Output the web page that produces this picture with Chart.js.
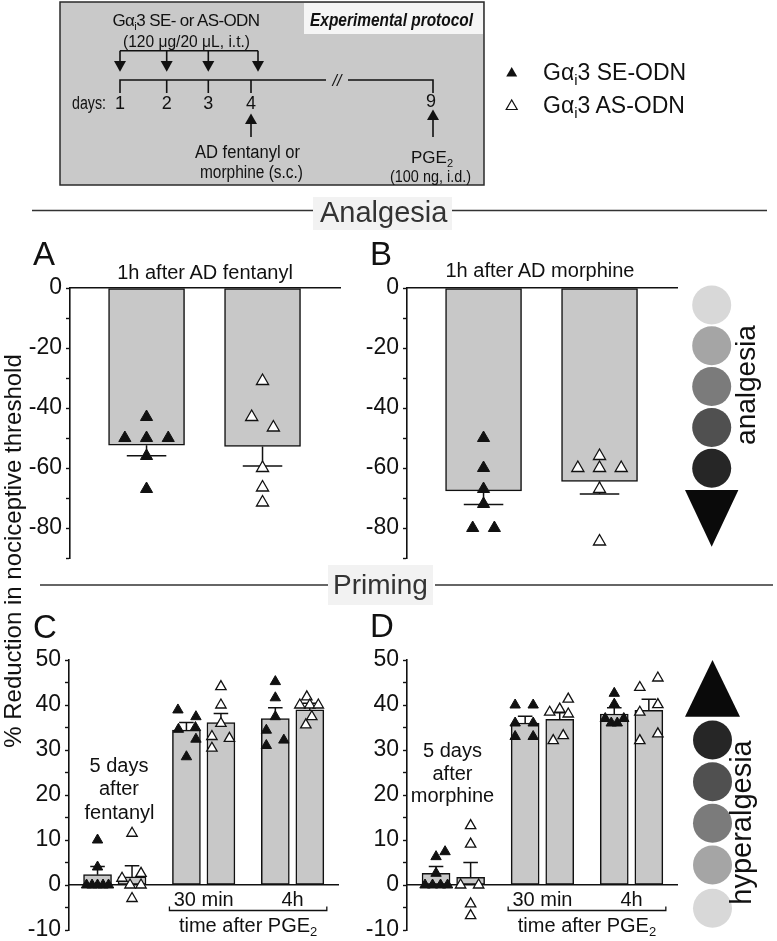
<!DOCTYPE html>
<html>
<head>
<meta charset="utf-8">
<script src="https://cdn.jsdelivr.net/npm/chart.js@4.4.1/dist/chart.umd.min.js"></script>
<style>
  html, body { margin: 0; padding: 0; background: #fff; overflow: hidden; }
  #page { position: relative; width: 777px; height: 941px; }
  canvas { position: absolute; }
  svg { position: absolute; left: 0; top: 0; pointer-events: none; }
</style>
</head>
<body>
<div id="page">
  <canvas id="chartA"></canvas>
  <canvas id="chartB"></canvas>
  <canvas id="chartC"></canvas>
  <canvas id="chartD"></canvas>

  <svg width="777" height="941" viewBox="0 0 777 941" font-family="'Liberation Sans', Arial, sans-serif" fill="#111">
    <!-- experimental protocol box -->
    <rect x="60" y="2" width="424" height="183" fill="#c9c9c9" stroke="#2a2a2a" stroke-width="1.5"/>
    <rect x="304" y="3" width="179" height="31" fill="#f5f5f5"/>
    <text x="310" y="26" font-size="18" font-weight="bold" font-style="italic" textLength="163" lengthAdjust="spacingAndGlyphs">Experimental protocol</text>
    <text x="186" y="26" font-size="17" text-anchor="middle" letter-spacing="-0.6">Gα<tspan font-size="11" dy="4">i</tspan><tspan dy="-4">3 SE- or AS-ODN</tspan></text>
    <text x="123" y="47" font-size="17" textLength="127" lengthAdjust="spacingAndGlyphs">(120 μg/20 μL, i.t.)</text>
    <g stroke="#111" stroke-width="1.6" fill="none">
      <path d="M120 50.7 H258"/>
      <path d="M120 50.7 V63 M166.7 50.7 V63 M208.3 50.7 V63 M258 50.7 V63"/>
      <path d="M120 93 V80 H326 M348 80 H433 V93"/>
      <path d="M166.7 80 V93 M208.3 80 V93 M251 80 V93"/>
      <path d="M251 137 V122 M433 137 V118"/>
    </g>
    <g fill="#111">
      <polygon points="114,61 126,61 120,71.7"/>
      <polygon points="160.7,61 172.7,61 166.7,71.7"/>
      <polygon points="202.3,61 214.3,61 208.3,71.7"/>
      <polygon points="252,61 264,61 258,71.7"/>
      <polygon points="245,124 257,124 251,113.5"/>
      <polygon points="427,120 439,120 433,109.5"/>
    </g>
    <text x="337" y="86" font-size="16" font-style="italic" text-anchor="middle">//</text>
    <text x="72" y="108.5" font-size="18" textLength="34" lengthAdjust="spacingAndGlyphs">days:</text>
    <g font-size="18" text-anchor="middle">
      <text x="120" y="108.5">1</text>
      <text x="166.7" y="108.5">2</text>
      <text x="208.3" y="108.5">3</text>
      <text x="251" y="108.5">4</text>
      <text x="431" y="107">9</text>
    </g>
    <text x="195" y="158" font-size="18" textLength="105" lengthAdjust="spacingAndGlyphs">AD fentanyl or</text>
    <text x="200" y="178" font-size="18" textLength="103" lengthAdjust="spacingAndGlyphs">morphine (s.c.)</text>
    <text x="432" y="163" font-size="17" text-anchor="middle">PGE<tspan font-size="11" dy="4">2</tspan></text>
    <text x="390" y="182" font-size="17" textLength="81" lengthAdjust="spacingAndGlyphs">(100 ng, i.d.)</text>

    <!-- legend -->
    <polygon points="506.2,76.5 517.2,76.5 511.7,67" fill="#111"/>
    <polygon points="506.2,109.5 517.2,109.5 511.7,100" fill="#fff" stroke="#111" stroke-width="1.2"/>
    <text x="543" y="80" font-size="23">Gα<tspan font-size="15" dy="5">i</tspan><tspan dy="-5">3 SE-ODN</tspan></text>
    <text x="543" y="113" font-size="23">Gα<tspan font-size="15" dy="5">i</tspan><tspan dy="-5">3 AS-ODN</tspan></text>

    <!-- section separators -->
    <g stroke="#333" stroke-width="1.5">
      <line x1="32" y1="210.5" x2="313" y2="210.5"/>
      <line x1="452" y1="210.5" x2="767" y2="210.5"/>
      <line x1="40" y1="585" x2="328" y2="585"/>
      <line x1="435" y1="585" x2="773" y2="585"/>
    </g>
    <rect x="313" y="197" width="139" height="33" fill="#f2f2f2"/>
    <text x="320" y="221.5" font-size="29" fill="#333">Analgesia</text>
    <rect x="328" y="565" width="105" height="40" fill="#f2f2f2"/>
    <text x="333" y="593.5" font-size="28" fill="#333">Priming</text>

    <!-- panel letters and titles -->
    <g font-size="33">
      <text x="33" y="265">A</text>
      <text x="370" y="265">B</text>
      <text x="33" y="638">C</text>
      <text x="370" y="637">D</text>
    </g>
    <g font-size="20" text-anchor="middle">
      <text x="205" y="279">1h after AD fentanyl</text>
      <text x="540" y="277">1h after AD morphine</text>
      <text x="119" y="772">5 days</text>
      <text x="119" y="795">after</text>
      <text x="119.5" y="819">fentanyl</text>
      <text x="452.5" y="757">5 days</text>
      <text x="452.5" y="780">after</text>
      <text x="452.5" y="802">morphine</text>
    </g>

    <!-- shared y-axis title -->
    <text transform="translate(20.5,551) rotate(-90)" font-size="24" text-anchor="middle">% Reduction in nociceptive threshold</text>

    <!-- analgesia scale -->
    <circle cx="711.7" cy="305" r="19.5" fill="#d8d8d8"/>
    <circle cx="711.7" cy="345.8" r="19.5" fill="#a5a5a5"/>
    <circle cx="711.7" cy="386.6" r="19.5" fill="#7b7b7b"/>
    <circle cx="711.7" cy="427.4" r="19.5" fill="#505050"/>
    <circle cx="711.7" cy="468.2" r="19.5" fill="#262626"/>
    <polygon points="685,490 738.4,490 711.7,546.7" fill="#0a0a0a"/>
    <text transform="translate(755,385) rotate(-90)" font-size="28" text-anchor="middle">analgesia</text>

    <!-- hyperalgesia scale -->
    <polygon points="685,716.7 740,716.7 712.5,660" fill="#0a0a0a"/>
    <circle cx="712.5" cy="740" r="19.5" fill="#262626"/>
    <circle cx="712.5" cy="781.7" r="19.5" fill="#505050"/>
    <circle cx="712.5" cy="823.3" r="19.5" fill="#7b7b7b"/>
    <circle cx="712.5" cy="865" r="19.5" fill="#a5a5a5"/>
    <circle cx="712.5" cy="908.3" r="19.5" fill="#d8d8d8"/>
    <text transform="translate(751,822.5) rotate(-90)" font-size="29" text-anchor="middle">hyperalgesia</text>
  </svg>
</div>

<script>
// ---- data ----

// tick labels
const yLabelsAnalgesia = [0, -20, -40, -60, -80];
const yLabelsPriming = [50, 40, 30, 20, 10, 0, -10];

// A: 1h after AD fentanyl (one group, SE vs AS)
const seMeanA = [-52.4];
const seSemA = [3.5];
const asMeanA = [-52.8];
const asSemA = [6.5];
const sePointsA = [[-43, -50, -50, -50, -56, -67]];
const asPointsA = [[-31, -43, -46.5, -60, -66.5, -71.5]];
// horizontal spread of the dots (in dot slots)
const seSpreadA = [[0, -1, 0, 1, 0, 0]];
const asSpreadA = [[0, -0.5, 0.5, 0, 0, 0]];

// B: 1h after AD morphine
const seMeanB = [-67.6];
const seSemB = [4.6];
const asMeanB = [-64.5];
const asSemB = [4.2];
const sePointsB = [[-50, -60, -67, -72, -80, -80]];
const asPointsB = [[-56, -60, -60, -60, -67, -84.5]];
const seSpreadB = [[0, 0, 0, 0, -0.5, 0.5]];
const asSpreadB = [[0, -1, 0, 1, 0, 0]];

// C: priming after fentanyl
const groupLabelsC = ['', '30 min', '4h'];
const seMeanC = [2.3, 34.4, 37.0];
const seSemC = [1.8, 1.7, 2.4];
const asMeanC = [1.8, 36.1, 38.9];
const asSemC = [2.5, 2.0, 1.5];
const sePointsC = [[10, 4, 0, 0, 0, 0, 0], [38.9, 37.4, 34.6, 35.0, 32.4, 28.5], [45.2, 41.6, 37.4, 34.4, 32.2, 31]];
const asPointsC = [[11.5, 2.6, 1.5, 0, 0, -3], [44.1, 40, 35.9, 33, 32.6, 30.4], [41.8, 40, 40, 40, 37.4, 35.6]];
const seSpreadC = [[0, 0, -1.1, -0.55, 0, 0.55, 1.1], [-0.85, 0.95, -0.8, 0.9, 0.95, 0], [0, 0, 0, -0.9, 0.85, -0.9]];
const asSpreadC = [[0, 0.9, -1, -0.2, 0.9, 0], [0, 0, 0, -0.9, 0.85, -0.9], [-0.3, -1, 0, 0.85, 0.2, -0.4]];

// D: priming after morphine
const groupLabelsD = ['', '30 min', '4h'];
const seMeanD = [2.6, 36.0, 38.0];
const seSemD = [1.5, 1.5, 1.4];
const asMeanD = [1.7, 36.8, 38.8];
const asSemD = [3.3, 1.5, 2.5];
const sePointsD = [[7.4, 6.3, 2.6, 0, 0, 0, 0], [40, 40, 36, 36, 33, 33], [42.6, 40.2, 37, 36, 36, 37]];
const asPointsD = [[13.2, 9.1, 0, 0, -4.2, -6.8], [41.3, 39.1, 38.4, 38, 33.2, 32.1], [46, 43.9, 40.1, 38.4, 33.6, 32.1]];
const seSpreadD = [[0.9, 0, 0, -1.1, -0.35, 0.45, 1.15], [-1, 0.8, -1, 0.8, -1, 0.8], [0, 0, -0.9, -0.3, 0.3, 0.95]];
const asSpreadD = [[0, 0, -1, 0.8, 0, 0], [0.85, 0, -1, 0.85, 0.35, -0.65], [0.9, -0.9, 0.9, -0.9, 0.9, -0.9]];

// ---- layout ----
const FONT = "'Liberation Sans', Arial, sans-serif";
Chart.defaults.font.family = FONT;
Chart.defaults.color = '#111';

const AXIS_W = 55;   // room for y tick labels
const PAD_R = 10;
const PAD_T = 20;
const PAD_B = 20;
const INK = '#111';
const BAR_FILL = '#c8c8c8';

// error bars: drawn before the datasets so the dots sit on top
const errorBarPlugin = {
  id: 'errorBars',
  beforeDatasetsDraw(chart) {
    const ctx = chart.ctx;
    const yScale = chart.scales.y;
    chart.data.datasets.forEach((ds, di) => {
      if (!ds.errors) return;
      const meta = chart.getDatasetMeta(di);
      meta.data.forEach((bar, i) => {
        const m = ds.data[i].y;
        const yStart = yScale.getPixelForValue(m);
        const yEnd = yScale.getPixelForValue(m + Math.sign(m) * ds.errors[i]);
        const half = bar.width * 0.26;
        ctx.save();
        ctx.strokeStyle = INK;
        ctx.lineWidth = 1.5;
        ctx.beginPath();
        ctx.moveTo(bar.x, yStart);
        ctx.lineTo(bar.x, yEnd);
        ctx.moveTo(bar.x - half, yEnd);
        ctx.lineTo(bar.x + half, yEnd);
        ctx.stroke();
        ctx.restore();
      });
    });
  }
};

// "30 min" / "4h" under the axis plus the bracket "time after PGE2"
function groupLabelPlugin(labels, pairOffset, barPx) {
  return {
    id: 'groupLabels',
    afterDraw(chart) {
      const ctx = chart.ctx;
      const xs = chart.scales.x;
      const y0 = chart.scales.y.getPixelForValue(0);
      let left = Infinity, right = -Infinity;
      ctx.save();
      ctx.fillStyle = INK;
      ctx.textAlign = 'center';
      ctx.textBaseline = 'middle';
      ctx.font = '20px ' + FONT;
      labels.forEach((lab, i) => {
        if (!lab) return;
        ctx.fillText(lab, xs.getPixelForValue(i), y0 + 15);
        left = Math.min(left, xs.getPixelForValue(i - pairOffset) - barPx / 2 - 3);
        right = Math.max(right, xs.getPixelForValue(i + pairOffset) + barPx / 2 + 3);
      });
      const by = y0 + 25.5;
      ctx.strokeStyle = INK;
      ctx.lineWidth = 1.3;
      ctx.beginPath();
      ctx.moveTo(left, by - 4);
      ctx.lineTo(left, by);
      ctx.lineTo(right, by);
      ctx.lineTo(right, by - 4);
      ctx.stroke();

      const main = 'time after PGE';
      ctx.font = '20px ' + FONT;
      const wMain = ctx.measureText(main).width;
      ctx.font = '13px ' + FONT;
      const wSub = ctx.measureText('2').width;
      const start = (left + right) / 2 - (wMain + wSub) / 2;
      ctx.textAlign = 'left';
      ctx.font = '20px ' + FONT;
      ctx.fillText(main, start, y0 + 41);
      ctx.font = '13px ' + FONT;
      ctx.fillText('2', start + wMain, y0 + 47);
      ctx.restore();
    }
  };
}

function buildDatasets(seMean, seSem, asMean, asSem, sePts, asPts, seSpread, asSpread, pairOffset, slot, barPx, dotR) {
  const barStyle = {
    type: 'bar',
    backgroundColor: BAR_FILL,
    borderColor: INK,
    borderWidth: 1.5,
    borderSkipped: false,
    barThickness: barPx,
    grouped: false,
    order: 2
  };
  const dotStyle = {
    type: 'scatter',
    pointStyle: 'triangle',
    pointRadius: dotR,
    borderColor: INK,
    order: 1,
    clip: false
  };
  return [
    Object.assign({}, barStyle, {
      label: 'Gαi3 SE-ODN',
      data: seMean.map((v, i) => ({ x: i - pairOffset, y: v })),
      errors: seSem
    }),
    Object.assign({}, barStyle, {
      label: 'Gαi3 AS-ODN',
      data: asMean.map((v, i) => ({ x: i + pairOffset, y: v })),
      errors: asSem
    }),
    Object.assign({}, dotStyle, {
      label: 'SE points',
      data: sePts.flatMap((g, i) => g.map((v, j) => ({ x: i - pairOffset + seSpread[i][j] * slot, y: v }))),
      backgroundColor: INK,
      borderWidth: 1
    }),
    Object.assign({}, dotStyle, {
      label: 'AS points',
      data: asPts.flatMap((g, i) => g.map((v, j) => ({ x: i + pairOffset + asSpread[i][j] * slot, y: v }))),
      backgroundColor: '#fff',
      borderWidth: 1.3
    })
  ];
}

function makeChart(id, box, yMin, yMax, yStep, yLabels, xMin, xMax, datasets, extraPlugins) {
  const cv = document.getElementById(id);
  cv.width = box.x1 - box.x0 + AXIS_W + PAD_R;
  cv.height = box.yBot - box.yTop + PAD_T + PAD_B;
  cv.style.left = (box.x0 - AXIS_W) + 'px';
  cv.style.top = (box.yTop - PAD_T) + 'px';
  return new Chart(cv, {
    type: 'bar',
    data: { datasets: datasets },
    options: {
      responsive: false,
      animation: false,
      events: [],
      layout: { padding: { left: 0, right: PAD_R, top: PAD_T, bottom: PAD_B } },
      plugins: { legend: { display: false }, tooltip: { enabled: false } },
      scales: {
        x: {
          type: 'linear',
          min: xMin,
          max: xMax,
          offset: false,
          position: { y: 0 },
          ticks: { display: false },
          grid: { offset: false, drawOnChartArea: false, drawTicks: false },
          border: { color: INK, width: 1.6 }
        },
        y: {
          type: 'linear',
          position: 'left',
          min: yMin,
          max: yMax,
          afterFit: (s) => { s.width = AXIS_W; },
          border: { color: INK, width: 1.6 },
          grid: { drawOnChartArea: false, drawTicks: true, tickLength: 4, tickColor: INK, tickWidth: 1.4 },
          ticks: {
            stepSize: yStep,
            autoSkip: false,
            padding: 4,
            color: INK,
            font: { size: 23 },
            callback: (v) => yLabels.includes(v) ? String(v) : ''
          }
        }
      }
    },
    plugins: [errorBarPlugin].concat(extraPlugins || [])
  });
}

// analgesia panels: one pair of bars, 116 px per unit
const pairAB = 0.5, slotAB = 0.187, barAB = 76;
makeChart('chartA', { x0: 70, x1: 340, yTop: 288, yBot: 558 }, -90, 0, 10, yLabelsAnalgesia, -1.16, 1.168,
  buildDatasets(seMeanA, seSemA, asMeanA, asSemA, sePointsA, asPointsA, seSpreadA, asSpreadA, pairAB, slotAB, barAB, 7));
makeChart('chartB', { x0: 407, x1: 677, yTop: 288, yBot: 558 }, -90, 0, 10, yLabelsAnalgesia, -1.16, 1.168,
  buildDatasets(seMeanB, seSemB, asMeanB, asSemB, sePointsB, asPointsB, seSpreadB, asSpreadB, pairAB, slotAB, barAB, 7));

// priming panels: three groups, ~89 px per unit
const pairCD = 0.194, slotCD = 0.1125, barCD = 28;
makeChart('chartC', { x0: 69, x1: 338, yTop: 660, yBot: 930 }, -10, 50, 5, yLabelsPriming, -0.515, 2.511,
  buildDatasets(seMeanC, seSemC, asMeanC, asSemC, sePointsC, asPointsC, seSpreadC, asSpreadC, pairCD, slotCD, barCD, 6),
  [groupLabelPlugin(groupLabelsC, pairCD, barCD)]);
makeChart('chartD', { x0: 407, x1: 677, yTop: 660, yBot: 930 }, -10, 50, 5, yLabelsPriming, -0.52, 2.51,
  buildDatasets(seMeanD, seSemD, asMeanD, asSemD, sePointsD, asPointsD, seSpreadD, asSpreadD, pairCD, slotCD, barCD, 6),
  [groupLabelPlugin(groupLabelsD, pairCD, barCD)]);
</script>
</body>
</html>
